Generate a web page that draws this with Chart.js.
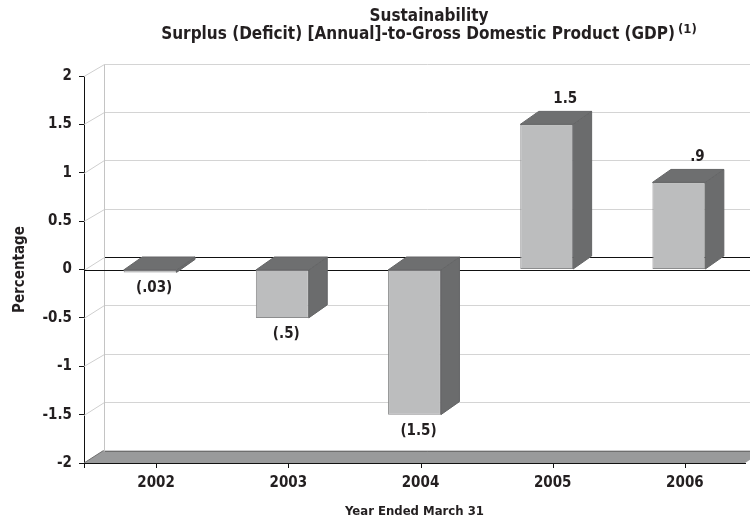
<!DOCTYPE html>
<html>
<head>
<meta charset="utf-8">
<script src="https://cdn.jsdelivr.net/npm/chart.js@4/dist/chart.umd.min.js"></script>
<style>
  html, body { margin: 0; padding: 0; background: #ffffff; }
  #wrap { width: 750px; height: 524px; }
</style>
</head>
<body>
<div id="wrap"><canvas id="chart" width="750" height="524"></canvas></div>
<script>
// Fiscal years and the annual surplus (deficit) as a share of GDP
const years = ['2002', '2003', '2004', '2005', '2006'];
const surplusPct = [-0.03, -0.5, -1.5, 1.5, 0.9];
const valueLabels = ['(.03)', '(.5)', '(1.5)', '1.5', '.9'];
const yTicks = [-2, -1.5, -1, -0.5, 0, 0.5, 1, 1.5, 2];
const yTickLabels = ['-2', '-1.5', '-1', '-0.5', '0', '0.5', '1', '1.5', '2'];

const titleLine1 = 'Sustainability';
const titleLine2 = 'Surplus (Deficit) [Annual]-to-Gross Domestic Product (GDP)';
const titleNote = '(1)';

const FONT = '"DejaVu Sans Condensed", "DejaVu Sans", sans-serif';
const INK = '#231f20';

// depth of the box walls and of each bar
const WALL_DX = 19.5, WALL_DY = -12.5;
const BAR_DX = 18.5, BAR_DY = -13;

// crisp 1px line positions
const crisp = v => Math.round(v) + 0.5;

function line(ctx, x1, y1, x2, y2, color, w) {
  ctx.beginPath();
  ctx.strokeStyle = color;
  ctx.lineWidth = w || 1;
  ctx.moveTo(x1, y1);
  ctx.lineTo(x2, y2);
  ctx.stroke();
}
function poly(ctx, pts, fill, stroke) {
  ctx.beginPath();
  ctx.moveTo(pts[0][0], pts[0][1]);
  for (let i = 1; i < pts.length; i++) ctx.lineTo(pts[i][0], pts[i][1]);
  ctx.closePath();
  ctx.fillStyle = fill;
  ctx.fill();
  if (stroke) { ctx.strokeStyle = stroke; ctx.lineWidth = 1; ctx.stroke(); }
}

// back wall, side wall lines, floor and zero plane behind the bars
const wallPlugin = {
  id: 'wall3d',
  beforeDatasetsDraw(chart) {
    const { ctx, chartArea: a, scales: { y } } = chart;
    const W = chart.width;
    ctx.save();
    const yBottom = y.getPixelForValue(y.min);
    const backLeft = crisp(a.left + WALL_DX);
    // floor slab
    poly(ctx, [[a.left, yBottom], [a.right, yBottom], [a.right + WALL_DX, yBottom + WALL_DY], [a.left + WALL_DX, yBottom + WALL_DY]], '#999a9b');
    line(ctx, backLeft, crisp(yBottom + WALL_DY), W, crisp(yBottom + WALL_DY), '#6e6e6e', 1);
    line(ctx, a.left, yBottom, a.left + WALL_DX, yBottom + WALL_DY, '#6e6e6e', 1);
    // back wall gridlines and side wall diagonals
    yTicks.forEach(v => {
      if (v === y.min) return;
      const py = y.getPixelForValue(v);
      const isZero = v === 0;
      line(ctx, a.left, crisp(py), backLeft, crisp(py + WALL_DY), '#cfcfcf', 1);
      line(ctx, backLeft, crisp(py + WALL_DY), W, crisp(py + WALL_DY), isZero ? '#111111' : '#d4d4d4', 1);
    });
    // back wall left edge
    const yTop = y.getPixelForValue(y.max);
    line(ctx, backLeft, crisp(yTop + WALL_DY), backLeft, crisp(yBottom + WALL_DY), '#c4c4c4', 1);
    // front zero line
    const y0 = crisp(y.getPixelForValue(0));
    line(ctx, a.left, y0, W, y0, '#111111', 1);
    ctx.restore();
  },
  afterDatasetsDraw(chart) {
    const { ctx, chartArea: a, scales: { x, y } } = chart;
    const meta = chart.getDatasetMeta(0);
    ctx.save();
    meta.data.forEach((bar, i) => {
      const left = bar.x - bar.width / 2;
      const right = bar.x + bar.width / 2;
      const top = Math.min(bar.y, bar.base);
      const bottom = Math.max(bar.y, bar.base);
      // right side face
      poly(ctx, [[right, top], [right + BAR_DX, top + BAR_DY], [right + BAR_DX, bottom + BAR_DY], [right, bottom]], '#6b6c6d', '#646566');
      // top face
      poly(ctx, [[left, top], [left + BAR_DX, top + BAR_DY], [right + BAR_DX, top + BAR_DY], [right, top]], '#6e6f70', '#646566');
      // value label
      ctx.fillStyle = INK;
      ctx.font = 'bold 15px ' + FONT;
      ctx.textAlign = 'center';
      ctx.textBaseline = 'middle';
      const v = surplusPct[i];
      if (v >= 0) {
        ctx.fillText(valueLabels[i], bar.x + BAR_DX, bar.y - 25);
      } else {
        ctx.fillText(valueLabels[i], bar.x + 4, bar.y + 16);
      }
    });
    // category tick marks on the front axis
    const yBottom = y.getPixelForValue(y.min);
    years.forEach((_, i) => {
      const px = crisp(x.getPixelForValue(i) + 6);
      line(ctx, px, yBottom, px, yBottom + 5, '#111111', 1);
    });
    line(ctx, crisp(a.left), yBottom, crisp(a.left), yBottom + 5, '#111111', 1);
    ctx.restore();
  },
  afterDraw(chart) {
    const { ctx } = chart;
    ctx.save();
    ctx.fillStyle = INK;
    ctx.textBaseline = 'alphabetic';
    const cx = 429;
    ctx.font = 'bold 17px ' + FONT;
    ctx.textAlign = 'center';
    ctx.fillText(titleLine1, cx, 21);
    const wMain = ctx.measureText(titleLine2).width;
    ctx.font = 'bold 13px ' + FONT;
    const wNote = ctx.measureText(titleNote).width;
    const gap = 3;
    const start = cx - (wMain + gap + wNote) / 2;
    ctx.textAlign = 'left';
    ctx.font = 'bold 17px ' + FONT;
    ctx.fillText(titleLine2, start, 39);
    ctx.font = 'bold 13px ' + FONT;
    ctx.fillText(titleNote, start + wMain + gap, 33);
    ctx.restore();
  }
};

new Chart(document.getElementById('chart'), {
  type: 'bar',
  data: {
    labels: years,
    datasets: [{
      data: surplusPct,
      backgroundColor: '#bcbdbe',
      borderColor: '#8c8d8e',
      borderWidth: 1,
      borderSkipped: false,
      categoryPercentage: 0.4,
      barPercentage: 1
    }]
  },
  options: {
    responsive: false,
    animation: false,
    devicePixelRatio: 1,
    events: [],
    layout: { padding: { top: 76, right: 5, bottom: 0, left: 0 } },
    plugins: {
      legend: { display: false },
      tooltip: { enabled: false },
      title: { display: false }
    },
    scales: {
      x: {
        type: 'category',
        offset: true,
        grid: { display: false, drawTicks: false },
        border: { display: true, color: '#111111', width: 1 },
        ticks: {
          color: INK,
          font: { family: FONT, size: 15, weight: 'bold' },
          padding: 11,
          labelOffset: 6,
          maxRotation: 0
        },
        title: {
          display: true,
          text: 'Year Ended March 31',
          color: INK,
          font: { family: FONT, size: 13, weight: 'bold' },
          padding: { top: 0, bottom: 5 }
        },
        afterFit(scale) { scale.height = 61; }
      },
      y: {
        min: -2,
        max: 2,
        afterBuildTicks(scale) { scale.ticks = yTicks.map(v => ({ value: v })); },
        grid: { display: true, drawOnChartArea: false, drawTicks: true, tickLength: 5, color: '#111111' },
        border: { display: true, color: '#111111', width: 1 },
        ticks: {
          color: INK,
          font: { family: FONT, size: 15, weight: 'bold' },
          padding: 7,
          callback(value) {
            const k = yTicks.indexOf(value);
            return k >= 0 ? yTickLabels[k] : '';
          }
        },
        title: {
          display: true,
          text: 'Percentage',
          color: INK,
          font: { family: FONT, size: 15, weight: 'bold' },
          padding: { top: 11, bottom: 0 }
        },
        afterFit(scale) { scale.width = 84; }
      }
    }
  },
  plugins: [wallPlugin]
});
</script>
</body>
</html>
